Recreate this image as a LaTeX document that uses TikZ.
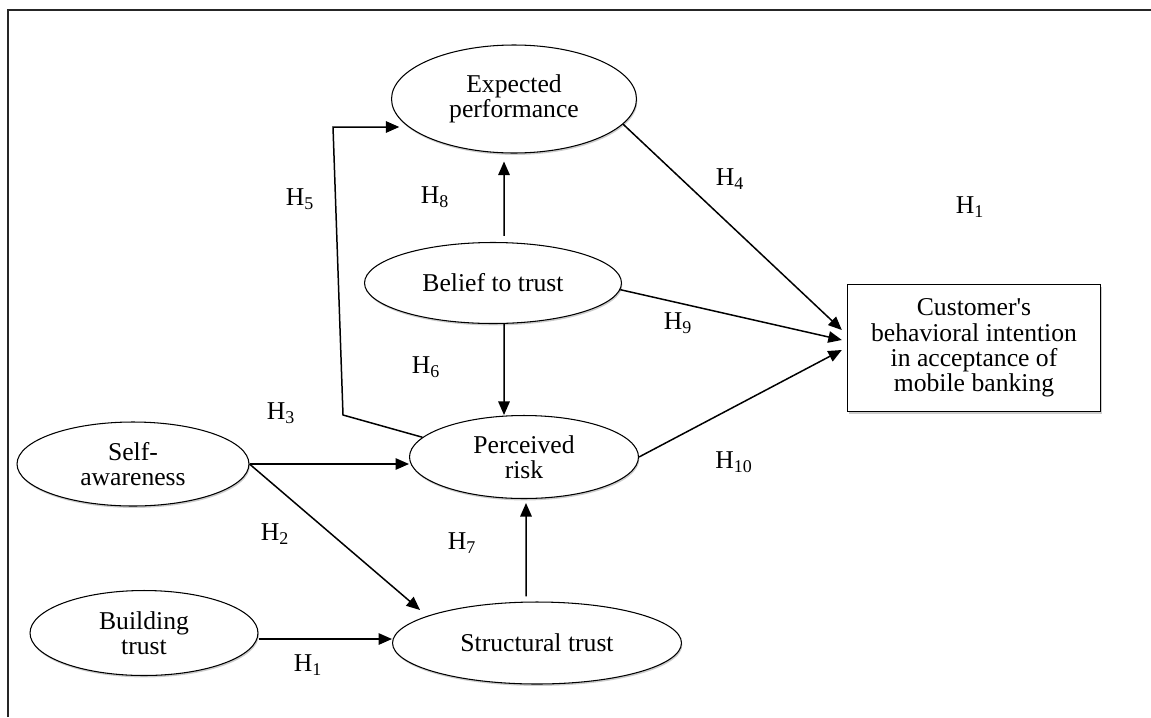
\documentclass[tikz,border=0pt]{standalone}
\usepackage{fontspec}
\setmainfont{Liberation Serif}
\usepackage{tikz}
\usetikzlibrary{arrows.meta,shapes,shadows,calc}

\newcommand{\figfont}{\fontsize{14.6}{14.4}\selectfont}

\tikzset{
  every node/.style = {font = \figfont},
  construct/.style = {ellipse, draw, fill = white, line width = 0.6pt,
    inner sep = 0pt, align = center,
    drop shadow = {shadow xshift = 0.5pt, shadow yshift = -1.1pt, fill = black!40}},
  outcome/.style = {rectangle, draw, fill = white, line width = 0.8pt,
    inner sep = 0pt, align = center,
    drop shadow = {shadow xshift = 0.8pt, shadow yshift = -1.2pt, fill = black!40}},
  link/.style = {-{Triangle[length = 2.7mm, width = 2.3mm]}, line width = 0.85pt},
  hyp/.style = {inner sep = 0pt}
}

\begin{document}
\begin{tikzpicture}[x = 0.02cm, y = -0.02cm]

\useasboundingbox (0,0) rectangle (1151,717);
\draw[line width = 1.4pt, black!85] (8,717) -- (8,10) -- (1151,10);

% constructs
\node (EP) [construct, minimum width = 4.9cm, minimum height = 2.16cm]
  at (514,99) {Expected\\performance};
\node (BT) [construct, minimum width = 5.14cm, minimum height = 1.62cm]
  at (493,283) {Belief to trust};
\node (PR) [construct, minimum width = 4.58cm, minimum height = 1.66cm]
  at (524,457) {Perceived\\risk};
\node (SA) [construct, minimum width = 4.64cm, minimum height = 1.68cm]
  at (133,464) {Self-\\awareness};
\node (BU) [construct, minimum width = 4.56cm, minimum height = 1.7cm]
  at (144,633) {Building\\trust};
\node (ST) [construct, minimum width = 5.78cm, minimum height = 1.64cm]
  at (537,643) {Structural trust};
\node (CB) [outcome, minimum width = 5.06cm, minimum height = 2.54cm]
  at (974,348) {Customer\textquotesingle s\\behavioral intention\\in acceptance of\\mobile banking};

% hypotheses
\node (h1a) [hyp] at (970,207) {H\textsubscript{1}};
\node (h1b) [hyp] at (308,665) {H\textsubscript{1}};
\node (h2) [hyp] at (275,534) {H\textsubscript{2}};
\node (h3) [hyp] at (281,413) {H\textsubscript{3}};
\node (h4) [hyp] at (730,179) {H\textsubscript{4}};
\node (h5) [hyp] at (300,199) {H\textsubscript{5}};
\node (h6) [hyp] at (426,367) {H\textsubscript{6}};
\node (h7) [hyp] at (462,543) {H\textsubscript{7}};
\node (h8) [hyp] at (435,197) {H\textsubscript{8}};
\node (h9) [hyp] at (678,323) {H\textsubscript{9}};
\node (h10) [hyp] at (734,462) {H\textsubscript{10}};

% paths
\coordinate (k1) at (343,415);
\coordinate (k2) at (333,127);

\draw[link] (EP.-13.5) -- ([yshift = 0.36cm, xshift = -0.1cm]CB.west);
\draw[link] (BT.-3) -- ([yshift = 0.16cm, xshift = -0.1cm]CB.west);
\draw[link] (PR.east) -- ([yshift = -0.04cm, xshift = -0.1cm]CB.west);
\draw[link] ([xshift = 0.22cm, yshift = 0.12cm]BT.north)
  -- ([xshift = -0.2cm, yshift = -0.16cm]EP.south);
\draw[link] ([xshift = 0.22cm]BT.south) -- ([xshift = -0.4cm]PR.north);
\draw[link] ([xshift = -0.22cm, yshift = 0.1cm]ST.north)
  -- ([xshift = 0.04cm, yshift = -0.08cm]PR.south);
\draw[link] (SA.east) -- (SA.east -| PR.west);
\draw[link] (SA.east) -- ([shift = {(-2.34cm,0.66cm)}]ST.center);
\draw[link] ([yshift = -0.12cm]BU.east) -- ([yshift = -0.12cm]BU.east -| ST.west);
\draw[link, shorten >= 0.15cm] (PR.169) -- (k1) -- (k2) -- (k2 -| EP.194);

\end{tikzpicture}
\end{document}
